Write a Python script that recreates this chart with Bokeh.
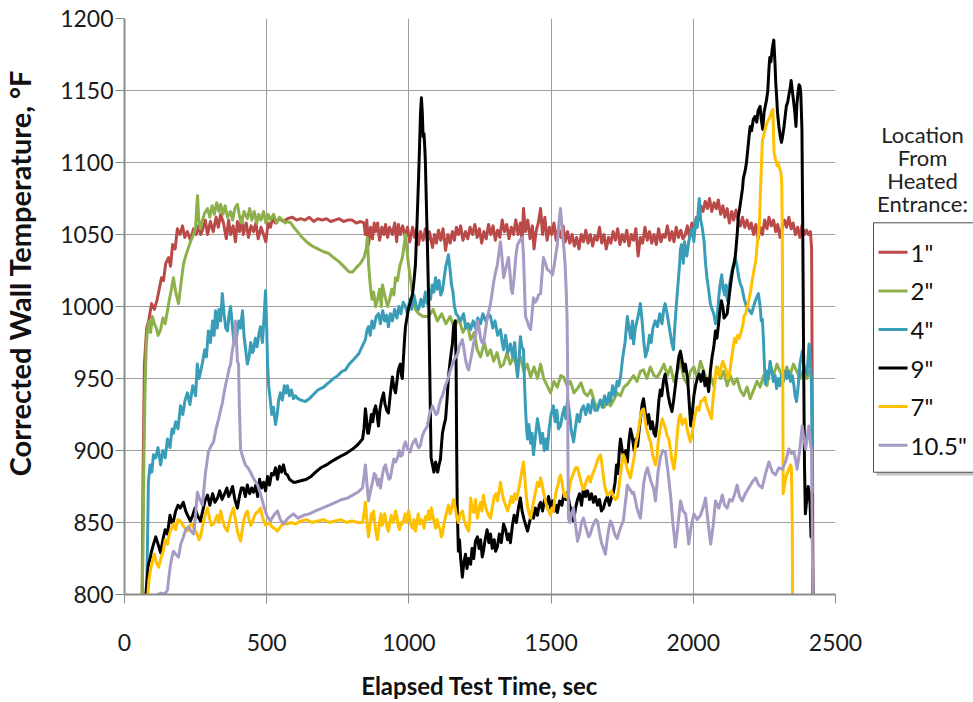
import math
from bokeh.plotting import figure
from bokeh.layouts import row
from bokeh.models import Range1d, FixedTicker
from bokeh.core.properties import value
from bokeh.embed import file_html
from bokeh.resources import INLINE

# ---------------- data ----------------
x_ticks = [0, 500, 1000, 1500, 2000, 2500]
y_ticks = [800, 850, 900, 950, 1000, 1050, 1100, 1150, 1200]

series_labels = ['1"', '2"', '4"', '9"', '7"', '10.5"']
legend_title_lines = ["Location", "From", "Heated", "Entrance:"]
x_title = "Elapsed Test Time, sec"
y_title = "Corrected Wall Temperature, \u00b0F"

# (elapsed time s, corrected wall temperature F)
loc_1in = [(62,800),(65,880),(70,960),(78,985),(85,990),(95,1002),(105,998),(115,1005),(122,1012),(130,1020),(137,1018),(145,1030),(155,1034),(162,1028),(169,1043),(178,1040),(186,1054),(195,1050),(204,1056),(212,1048),(221,1052),(232,1046),(243,1054),(252,1050),(260,1056),(268,1050),(274,1053),(284,1060),(292,1050),(302,1059),(312,1052),(322,1062),(330,1055),(338,1064),(348,1058),(358,1047),(366,1060),(373,1050),(382,1056),(390,1045),(397,1059),(405,1052),(412,1062),(418,1050),(428,1058),(436,1048),(445,1056),(454,1052),(462,1058),(470,1047),(480,1055),(489,1050),(497,1045),(505,1058),(513,1055),(522,1062),(530,1058),(545,1061),(560,1059),(573,1061),(590,1062),(605,1060),(619,1061),(635,1060),(650,1062),(665,1059),(680,1061),(695,1060),(710,1061),(725,1059),(740,1060),(755,1061),(770,1059),(785,1060),(800,1060),(815,1058),(830,1059),(842,1058),(847,1050),(852,1060),(858,1043),(865,1055),(872,1047),(878,1058),(883,1052),(890,1058),(897,1046),(905,1055),(912,1050),(918,1057),(925,1048),(932,1055),(942,1050),(950,1058),(957,1045),(963,1057),(970,1050),(978,1056),(988,1048),(995,1055),(1003,1045),(1013,1055),(1020,1048),(1027,1054),(1034,1043),(1041,1052),(1050,1046),(1058,1054),(1065,1045),(1072,1052),(1083,1041),(1090,1050),(1097,1044),(1104,1053),(1112,1046),(1120,1054),(1129,1039),(1137,1050),(1145,1044),(1153,1052),(1160,1046),(1167,1055),(1174,1050),(1182,1056),(1190,1046),(1199,1052),(1207,1047),(1215,1055),(1224,1050),(1232,1057),(1240,1048),(1248,1054),(1256,1044),(1264,1052),(1272,1047),(1280,1057),(1288,1050),(1296,1056),(1304,1046),(1312,1053),(1320,1048),(1328,1060),(1336,1052),(1344,1057),(1352,1047),(1360,1055),(1368,1050),(1376,1060),(1384,1050),(1392,1058),(1398,1045),(1403,1068),(1410,1052),(1418,1060),(1426,1047),(1434,1056),(1440,1040),(1447,1052),(1455,1058),(1463,1068),(1470,1050),(1478,1062),(1486,1046),(1494,1055),(1502,1050),(1510,1058),(1518,1046),(1526,1054),(1534,1048),(1542,1056),(1550,1045),(1558,1052),(1566,1044),(1574,1050),(1582,1042),(1590,1048),(1598,1040),(1606,1050),(1614,1045),(1622,1053),(1630,1044),(1638,1050),(1646,1042),(1654,1049),(1662,1046),(1670,1055),(1678,1044),(1686,1050),(1694,1040),(1702,1048),(1710,1044),(1718,1052),(1726,1046),(1734,1054),(1742,1043),(1750,1050),(1758,1045),(1766,1053),(1774,1042),(1782,1050),(1790,1046),(1798,1054),(1806,1035),(1814,1048),(1822,1044),(1830,1055),(1838,1046),(1846,1052),(1854,1044),(1862,1050),(1870,1043),(1878,1054),(1886,1045),(1894,1050),(1901,1048),(1909,1056),(1917,1046),(1925,1052),(1932,1045),(1940,1055),(1948,1048),(1956,1053),(1964,1047),(1972,1050),(1979,1056),(1987,1048),(1995,1058),(2003,1050),(2011,1062),(2018,1060),(2026,1070),(2034,1066),(2042,1073),(2050,1068),(2057,1075),(2065,1066),(2073,1072),(2081,1068),(2088,1074),(2096,1064),(2104,1070),(2111,1062),(2119,1068),(2127,1058),(2135,1066),(2142,1060),(2150,1067),(2158,1060),(2166,1056),(2173,1062),(2181,1055),(2189,1060),(2197,1054),(2204,1058),(2212,1050),(2220,1057),(2228,1047),(2235,1055),(2243,1050),(2251,1060),(2259,1054),(2266,1062),(2274,1056),(2282,1060),(2290,1052),(2297,1057),(2305,1048),(2313,1055),(2321,1060),(2328,1055),(2336,1062),(2344,1054),(2351,1058),(2359,1050),(2367,1055),(2375,1048),(2382,1056),(2390,1050),(2398,1053),(2405,1050),(2412,1052),(2416,1040),(2419,900),(2421,800)]

loc_2in = [(62,800),(65,830),(68,890),(72,940),(76,970),(80,982),(86,990),(92,982),(98,993),(105,988),(112,985),(118,980),(127,984),(135,992),(143,988),(151,997),(158,1005),(165,1012),(172,1020),(180,1010),(190,1002),(198,1015),(207,1029),(215,1035),(225,1041),(234,1046),(243,1050),(250,1055),(254,1070),(257,1077),(261,1060),(267,1054),(274,1060),(282,1065),(292,1068),(300,1062),(308,1070),(316,1064),(324,1072),(332,1066),(338,1071),(346,1064),(354,1070),(362,1062),(373,1066),(380,1060),(388,1068),(397,1071),(405,1062),(412,1058),(420,1066),(432,1061),(440,1068),(448,1060),(456,1066),(465,1058),(472,1064),(480,1060),(489,1066),(497,1058),(505,1064),(513,1060),(524,1064),(535,1058),(545,1062),(555,1060),(565,1058),(573,1059),(585,1058),(595,1055),(608,1052),(620,1049),(640,1045),(660,1042),(680,1040),(700,1038),(717,1037),(735,1034),(755,1031),(775,1027),(790,1024),(802,1024),(815,1027),(830,1030),(842,1034),(850,1040),(854,1048),(858,1030),(864,1015),(870,1005),(876,1010),(883,1000),(890,1005),(897,1012),(903,1000),(907,1015),(915,1008),(925,1000),(932,1005),(940,1012),(947,1008),(953,1020),(960,1018),(968,1028),(977,1034),(983,1042),(988,1050),(993,1040),(998,1030),(1005,1020),(1012,1010),(1018,1002),(1023,998),(1035,995),(1050,993),(1069,993),(1085,998),(1100,990),(1115,995),(1130,988),(1145,993),(1160,985),(1175,992),(1190,982),(1205,988),(1217,977),(1230,982),(1240,970),(1252,965),(1265,975),(1276,966),(1287,970),(1298,962),(1310,968),(1322,958),(1333,960),(1345,968),(1356,960),(1368,965),(1380,958),(1392,965),(1404,955),(1416,960),(1428,951),(1440,958),(1452,950),(1463,960),(1474,950),(1486,945),(1498,940),(1510,948),(1522,944),(1534,952),(1544,951),(1556,945),(1568,948),(1580,940),(1593,943),(1605,947),(1617,940),(1628,938),(1640,942),(1652,934),(1663,929),(1675,935),(1687,930),(1698,934),(1709,931),(1720,935),(1732,940),(1744,938),(1756,944),(1768,946),(1779,949),(1790,952),(1802,948),(1814,955),(1825,956),(1837,950),(1849,958),(1862,952),(1874,951),(1885,955),(1897,960),(1909,952),(1920,958),(1932,948),(1944,955),(1955,962),(1967,950),(1979,946),(1990,955),(2002,958),(2014,950),(2025,962),(2037,955),(2049,948),(2060,952),(2072,945),(2084,958),(2095,950),(2107,955),(2119,945),(2130,952),(2142,946),(2154,950),(2165,942),(2177,938),(2189,944),(2200,936),(2212,942),(2224,948),(2235,944),(2247,952),(2259,945),(2270,958),(2282,952),(2294,960),(2305,955),(2317,950),(2329,958),(2340,952),(2352,960),(2364,955),(2375,950),(2387,956),(2399,950),(2410,955),(2416,950)]

loc_4in = [(78,800),(82,850),(84,878),(90,890),(96,885),(102,897),(110,895),(118,902),(127,890),(135,900),(143,895),(151,908),(160,902),(167,915),(172,912),(180,920),(188,915),(197,931),(205,925),(213,935),(221,940),(230,932),(240,945),(250,938),(256,960),(262,950),(267,954),(275,962),(282,970),(288,965),(295,983),(302,975),(310,990),(315,980),(320,997),(326,985),(332,998),(338,990),(344,1009),(350,995),(356,985),(362,983),(368,995),(373,1000),(380,985),(385,975),(390,974),(396,982),(402,990),(408,985),(415,997),(420,980),(426,970),(432,960),(438,965),(444,975),(450,968),(454,970),(460,978),(466,972),(472,980),(478,986),(485,975),(490,990),(496,1011),(500,985),(503,960),(507,945),(512,936),(518,925),(524,930),(531,918),(537,925),(542,935),(548,940),(555,935),(562,945),(568,940),(573,945),(580,938),(587,942),(594,936),(601,938),(610,936),(620,935),(636,934),(650,936),(665,939),(680,942),(700,944),(717,947),(735,950),(750,952),(765,955),(777,956),(790,960),(805,963),(823,967),(835,972),(847,977),(852,983),(858,986),(864,980),(870,990),(877,985),(885,993),(893,995),(900,988),(908,997),(915,990),(922,994),(928,986),(935,995),(942,990),(950,998),(958,992),(965,1000),(972,995),(980,1003),(988,1000),(995,995),(1003,1005),(1010,998),(1018,1008),(1026,1000),(1034,998),(1042,1005),(1050,1000),(1058,1010),(1064,1002),(1069,1009),(1076,1005),(1082,1015),(1088,1010),(1094,1020),(1100,1012),(1106,1018),(1112,1008),(1118,1011),(1124,1020),(1130,1028),(1135,1032),(1139,1036),(1145,1025),(1150,1015),(1155,1010),(1160,1000),(1166,995),(1174,993),(1182,990),(1192,995),(1200,985),(1210,988),(1217,984),(1226,990),(1234,985),(1242,992),(1252,988),(1260,995),(1270,990),(1280,995),(1287,993),(1295,985),(1303,990),(1312,980),(1322,984),(1328,975),(1333,970),(1340,980),(1348,968),(1357,974),(1365,965),(1372,975),(1378,958),(1382,951),(1388,965),(1392,979),(1397,972),(1403,970),(1406,950),(1410,929),(1414,915),(1417,908),(1422,918),(1428,905),(1433,912),(1438,897),(1445,910),(1452,922),(1458,915),(1464,905),(1470,912),(1476,900),(1482,908),(1487,901),(1493,915),(1500,925),(1508,931),(1514,920),(1520,928),(1526,915),(1533,917),(1540,925),(1547,930),(1552,922),(1558,936),(1565,925),(1570,915),(1575,910),(1579,906),(1585,915),(1592,925),(1600,920),(1606,928),(1614,931),(1622,925),(1630,932),(1638,926),(1646,935),(1654,928),(1663,928),(1672,935),(1680,930),(1688,938),(1696,932),(1704,940),(1709,934),(1716,945),(1724,938),(1732,948),(1738,945),(1744,951),(1752,965),(1760,975),(1768,993),(1774,985),(1780,978),(1786,990),(1790,974),(1796,985),(1802,990),(1808,995),(1814,1002),(1820,990),(1826,975),(1832,965),(1839,970),(1846,980),(1852,975),(1858,985),(1866,990),(1874,986),(1882,995),(1890,988),(1896,998),(1901,1002),(1908,995),(1916,985),(1924,975),(1930,970),(1935,986),(1940,1000),(1946,1015),(1952,1030),(1955,1040),(1959,1043),(1965,1030),(1969,1045),(1977,1035),(1984,1045),(1990,1050),(1996,1054),(2002,1045),(2008,1060),(2014,1055),(2018,1068),(2021,1075),(2026,1060),(2032,1054),(2038,1045),(2043,1030),(2048,1020),(2055,1010),(2060,1002),(2066,998),(2072,995),(2078,988),(2083,991),(2089,1005),(2094,1015),(2100,1022),(2105,1012),(2111,1008),(2115,1015),(2120,1004),(2127,1015),(2133,1022),(2140,1028),(2147,1034),(2154,1028),(2160,1020),(2165,1016),(2171,1013),(2179,1005),(2187,1000),(2194,998),(2205,995),(2212,1000),(2220,1005),(2229,1009),(2235,1000),(2239,990),(2243,991),(2247,975),(2250,960),(2253,946),(2258,955),(2264,950),(2270,962),(2276,955),(2282,948),(2288,952),(2293,943),(2299,950),(2305,945),(2311,953),(2317,948),(2323,955),(2329,950),(2335,955),(2342,948),(2348,952),(2354,945),(2358,938),(2363,934),(2369,945),(2375,960),(2383,969),(2388,960),(2394,955),(2400,953),(2404,965),(2407,974),(2412,960),(2415,950),(2418,900),(2420,800)]

loc_9in = [(75,800),(80,812),(84,821),(90,825),(95,830),(102,835),(110,840),(118,835),(127,829),(135,838),(143,845),(151,842),(160,855),(166,850),(172,851),(180,858),(188,862),(196,860),(207,864),(215,858),(222,855),(232,851),(240,855),(248,860),(256,855),(267,851),(275,858),(283,865),(292,869),(300,862),(310,870),(318,864),(327,867),(335,872),(343,866),(352,870),(360,874),(366,868),(373,871),(380,875),(388,866),(397,860),(404,868),(411,874),(418,874),(425,868),(432,876),(440,870),(447,874),(454,871),(462,876),(468,868),(475,880),(482,874),(489,878),(496,872),(503,882),(510,876),(517,884),(524,883),(531,888),(538,880),(545,889),(552,885),(559,890),(566,884),(573,883),(580,880),(587,879),(594,878),(601,878),(620,879),(640,880),(656,882),(672,885),(690,888),(710,890),(725,892),(742,894),(760,896),(780,898),(802,901),(820,904),(837,908),(842,915),(847,929),(851,922),(855,912),(858,912),(863,918),(868,925),(873,920),(878,928),(883,931),(888,925),(893,917),(898,928),(904,935),(911,940),(916,932),(922,928),(928,926),(934,938),(938,945),(942,951),(946,945),(950,942),(953,940),(958,948),(962,955),(966,958),(970,960),(974,952),(977,950),(981,965),(985,978),(988,986),(993,992),(998,998),(1005,1003),(1013,1009),(1018,1018),(1023,1029),(1028,1055),(1034,1089),(1038,1115),(1041,1135),(1044,1145),(1047,1135),(1050,1118),(1053,1120),(1056,1110),(1058,1100),(1061,1075),(1065,1043),(1070,1000),(1073,960),(1076,920),(1078,895),(1083,890),(1088,885),(1094,892),(1101,885),(1106,890),(1111,894),(1115,905),(1118,912),(1124,918),(1129,922),(1134,935),(1139,951),(1145,962),(1150,970),(1153,974),(1157,986),(1163,990),(1166,960),(1168,900),(1170,860),(1174,830),(1178,838),(1182,825),(1188,812),(1193,822),(1199,828),(1204,818),(1210,825),(1217,821),(1222,832),(1228,825),(1234,837),(1241,840),(1247,832),(1252,838),(1258,826),(1262,830),(1268,838),(1275,845),(1281,836),(1287,842),(1293,832),(1300,838),(1305,830),(1311,833),(1318,842),(1325,836),(1333,849),(1340,845),(1347,838),(1352,842),(1357,836),(1364,848),(1370,855),(1378,850),(1385,860),(1392,867),(1398,858),(1405,852),(1411,848),(1417,844),(1424,850),(1431,856),(1438,853),(1445,860),(1452,855),(1458,862),(1463,864),(1470,858),(1477,866),(1484,862),(1491,868),(1498,860),(1505,865),(1512,858),(1518,862),(1522,857),(1530,865),(1538,862),(1545,870),(1552,866),(1558,871),(1565,862),(1572,858),(1579,851),(1586,860),(1593,866),(1600,870),(1607,862),(1614,874),(1621,868),(1628,872),(1635,866),(1642,870),(1649,864),(1656,868),(1663,862),(1670,866),(1677,858),(1684,860),(1691,865),(1698,868),(1705,862),(1712,867),(1719,871),(1725,878),(1730,890),(1735,884),(1740,900),(1744,908),(1750,900),(1756,895),(1762,900),(1768,892),(1773,905),(1779,915),(1785,910),(1792,900),(1798,908),(1804,903),(1810,915),(1816,925),(1820,932),(1825,936),(1830,928),(1836,918),(1843,925),(1850,915),(1856,920),(1862,912),(1867,910),(1873,920),(1879,935),(1884,942),(1889,938),(1895,948),(1901,953),(1907,945),(1912,938),(1918,932),(1925,927),(1931,935),(1937,945),(1943,955),(1949,965),(1955,969),(1961,962),(1967,955),(1972,960),(1980,950),(1985,935),(1991,917),(1996,925),(2002,938),(2008,945),(2014,950),(2021,953),(2027,948),(2035,955),(2041,945),(2047,950),(2054,941),(2060,955),(2066,965),(2072,972),(2078,983),(2083,978),(2089,988),(2094,998),(2099,1004),(2105,998),(2108,992),(2112,993),(2119,995),(2125,1005),(2131,1015),(2138,1025),(2146,1032),(2150,1040),(2155,1052),(2158,1062),(2163,1068),(2168,1075),(2173,1082),(2176,1089),(2182,1094),(2187,1100),(2192,1110),(2196,1118),(2200,1125),(2205,1122),(2211,1130),(2217,1132),(2223,1128),(2228,1136),(2235,1139),(2239,1130),(2244,1123),(2249,1135),(2254,1140),(2258,1144),(2262,1150),(2266,1165),(2269,1173),(2273,1170),(2277,1178),(2280,1182),(2283,1185),(2287,1170),(2290,1155),(2293,1146),(2296,1135),(2301,1125),(2306,1118),(2310,1114),(2314,1118),(2319,1125),(2323,1132),(2327,1139),(2332,1142),(2337,1148),(2341,1152),(2344,1157),(2348,1150),(2353,1142),(2357,1135),(2361,1125),(2364,1140),(2369,1150),(2372,1154),(2375,1153),(2378,1148),(2382,1123),(2385,1050),(2388,960),(2391,890),(2394,856),(2397,862),(2400,868),(2404,875),(2408,870),(2411,861),(2414,840),(2418,870),(2420,800)]

loc_7in = [(82,800),(86,810),(92,818),(98,823),(105,828),(112,822),(120,819),(128,825),(136,830),(143,838),(151,835),(158,842),(165,846),(172,849),(180,845),(188,852),(197,851),(205,848),(213,846),(221,844),(230,848),(239,849),(247,845),(255,842),(262,838),(267,840),(275,848),(283,855),(292,860),(300,852),(306,848),(313,849),(320,852),(326,855),(332,850),(338,858),(345,852),(352,847),(358,845),(362,844),(368,850),(375,856),(383,860),(390,852),(397,844),(403,840),(408,837),(414,845),(420,852),(426,856),(432,858),(438,852),(444,848),(450,850),(454,853),(460,856),(466,857),(472,858),(478,860),(485,854),(492,850),(497,848),(503,849),(510,850),(518,847),(526,846),(532,845),(538,844),(545,846),(552,848),(560,850),(566,849),(573,849),(585,850),(601,849),(620,851),(640,852),(660,850),(680,851),(700,852),(720,850),(740,851),(760,852),(780,850),(800,851),(820,850),(837,850),(842,856),(847,864),(852,852),(858,840),(863,848),(868,856),(872,852),(876,858),(880,850),(885,842),(889,838),(893,844),(898,852),(902,856),(906,848),(911,851),(915,856),(920,850),(924,846),(928,844),(933,850),(938,855),(943,850),(948,852),(953,858),(958,854),(962,848),(967,845),(972,850),(977,849),(982,852),(987,856),(992,850),(996,854),(999,858),(1004,852),(1008,848),(1013,846),(1018,852),(1023,844),(1028,850),(1033,856),(1038,849),(1043,852),(1048,851),(1053,846),(1058,854),(1064,852),(1069,858),(1074,852),(1079,860),(1084,855),(1089,850),(1094,846),(1099,852),(1104,848),(1110,845),(1114,840),(1118,842),(1124,850),(1130,855),(1134,858),(1139,862),(1145,856),(1150,860),(1157,866),(1163,860),(1168,854),(1174,850),(1180,856),(1188,858),(1194,852),(1200,848),(1205,846),(1210,844),(1214,852),(1217,867),(1222,860),(1228,857),(1234,866),(1241,853),(1247,860),(1252,864),(1257,858),(1262,869),(1268,862),(1274,858),(1280,855),(1287,853),(1293,860),(1300,868),(1306,870),(1312,865),(1317,872),(1322,878),(1328,870),(1334,865),(1340,862),(1347,858),(1353,862),(1360,868),(1366,864),(1372,870),(1377,866),(1382,869),(1388,875),(1394,882),(1399,888),(1403,892),(1408,880),(1413,868),(1418,860),(1423,856),(1428,853),(1434,860),(1440,866),(1446,872),(1452,878),(1458,875),(1463,881),(1469,876),(1474,870),(1480,865),(1486,860),(1492,858),(1498,855),(1503,860),(1508,858),(1513,866),(1518,872),(1523,875),(1528,880),(1533,883),(1538,878),(1543,872),(1548,868),(1553,870),(1558,867),(1563,872),(1568,878),(1574,882),(1580,885),(1586,888),(1593,888),(1598,884),(1603,880),(1608,876),(1614,873),(1620,876),(1626,880),(1632,882),(1638,878),(1643,882),(1649,885),(1655,888),(1661,892),(1667,895),(1674,897),(1679,890),(1684,882),(1688,876),(1693,872),(1698,869),(1705,870),(1712,872),(1719,868),(1726,866),(1733,867),(1738,874),(1743,882),(1748,890),(1754,897),(1760,894),(1766,888),(1773,884),(1779,881),(1785,888),(1792,895),(1798,905),(1804,910),(1810,918),(1815,925),(1820,928),(1825,929),(1830,922),(1835,915),(1840,912),(1845,908),(1850,906),(1856,898),(1862,893),(1867,890),(1872,895),(1876,905),(1881,912),(1886,918),(1891,922),(1897,918),(1903,915),(1908,910),(1914,908),(1920,900),(1926,892),(1932,887),(1937,895),(1943,910),(1949,922),(1955,925),(1961,918),(1966,920),(1972,922),(1978,915),(1984,910),(1990,906),(1996,912),(2002,920),(2007,925),(2013,930),(2020,928),(2026,934),(2034,935),(2041,937),(2046,932),(2053,928),(2059,925),(2064,922),(2069,935),(2075,945),(2081,958),(2087,955),(2093,952),(2098,958),(2104,962),(2111,958),(2117,955),(2122,950),(2128,953),(2133,962),(2139,970),(2145,978),(2151,975),(2156,980),(2162,978),(2169,983),(2175,988),(2178,993),(2184,995),(2190,1000),(2196,1005),(2202,1011),(2207,1018),(2213,1025),(2220,1032),(2224,1042),(2229,1050),(2233,1059),(2236,1080),(2240,1100),(2243,1116),(2247,1118),(2251,1122),(2255,1125),(2260,1128),(2265,1130),(2270,1132),(2275,1135),(2280,1137),(2282,1120),(2284,1107),(2289,1102),(2294,1098),(2298,1100),(2302,1097),(2305,1095),(2308,1093),(2311,1085),(2313,1050),(2316,870),(2321,876),(2326,882),(2332,885),(2338,888),(2342,890),(2345,888),(2348,850),(2349,800)]

loc_10_5in = [(116,800),(130,801),(140,800),(151,803),(156,812),(162,821),(167,826),(172,830),(180,828),(190,826),(198,835),(207,840),(215,845),(225,847),(234,844),(243,842),(250,855),(256,871),(265,866),(274,862),(280,875),(285,885),(290,892),(295,899),(304,903),(313,906),(322,915),(331,922),(338,928),(344,933),(352,942),(358,948),(362,951),(368,957),(373,960),(378,968),(383,974),(387,982),(390,990),(394,975),(397,962),(401,960),(404,930),(408,901),(415,896),(425,890),(434,888),(443,885),(455,880),(468,876),(478,870),(489,862),(500,855),(513,851),(525,855),(538,858),(548,852),(559,849),(575,853),(594,856),(610,853),(630,855),(650,856),(672,858),(695,860),(720,862),(742,864),(765,866),(785,867),(802,869),(820,871),(837,874),(842,882),(847,890),(852,878),(858,865),(865,872),(872,878),(878,884),(883,883),(890,876),(895,880),(900,874),(906,882),(912,888),(918,890),(924,884),(930,880),(935,881),(941,888),(947,894),(953,892),(960,895),(966,900),(972,896),(977,897),(982,903),(988,906),(994,902),(1000,900),(1005,899),(1011,904),(1017,906),(1023,908),(1029,904),(1035,902),(1041,904),(1047,910),(1053,913),(1059,915),(1065,917),(1071,924),(1077,928),(1083,931),(1089,928),(1095,925),(1101,926),(1107,932),(1113,936),(1118,938),(1124,942),(1130,946),(1136,949),(1142,953),(1148,957),(1153,960),(1159,963),(1165,965),(1171,967),(1177,972),(1183,975),(1188,977),(1194,970),(1200,962),(1205,958),(1210,956),(1216,962),(1222,968),(1228,975),(1234,979),(1238,985),(1241,990),(1247,985),(1252,978),(1257,975),(1262,974),(1268,982),(1274,990),(1280,996),(1287,1002),(1293,1010),(1299,1018),(1305,1024),(1311,1029),(1317,1038),(1322,1045),(1327,1035),(1333,1020),(1340,1026),(1345,1030),(1350,1034),(1356,1022),(1360,1012),(1364,1009),(1370,1020),(1376,1035),(1382,1043),(1390,1046),(1399,1048),(1403,1035),(1407,1010),(1410,993),(1416,990),(1422,986),(1428,984),(1433,995),(1438,1006),(1445,1003),(1451,1005),(1456,1008),(1463,1009),(1468,1022),(1473,1034),(1480,1030),(1486,1026),(1491,1025),(1498,1024),(1505,1022),(1512,1030),(1518,1038),(1522,1043),(1526,1055),(1530,1063),(1533,1068),(1537,1058),(1541,1048),(1544,1043),(1549,1030),(1553,1012),(1556,993),(1558,960),(1559,900),(1561,853),(1566,850),(1572,856),(1579,860),(1586,848),(1593,837),(1600,842),(1607,850),(1614,853),(1620,848),(1626,844),(1632,840),(1638,842),(1645,847),(1652,850),(1658,852),(1663,851),(1670,843),(1677,836),(1684,832),(1691,828),(1697,838),(1703,846),(1709,851),(1716,848),(1722,843),(1728,840),(1733,839),(1740,844),(1747,848),(1754,851),(1760,862),(1765,870),(1768,876),(1774,874),(1780,872),(1786,870),(1790,871),(1796,866),(1802,860),(1808,856),(1814,853),(1820,865),(1826,878),(1832,884),(1839,888),(1845,883),(1852,878),(1860,874),(1867,865),(1876,885),(1885,896),(1893,900),(1902,899),(1911,885),(1920,869),(1928,850),(1937,833),(1946,848),(1955,865),(1964,858),(1973,856),(1979,845),(1984,835),(1993,848),(2002,856),(2014,852),(2025,855),(2034,860),(2043,867),(2052,850),(2061,835),(2070,848),(2078,865),(2090,860),(2102,869),(2110,862),(2119,860),(2128,866),(2137,865),(2146,870),(2154,876),(2163,868),(2172,865),(2183,870),(2195,874),(2207,878),(2219,881),(2230,876),(2242,874),(2254,884),(2266,892),(2278,885),(2289,883),(2301,888),(2313,887),(2324,892),(2336,901),(2345,898),(2354,899),(2360,893),(2365,887),(2374,900),(2383,917),(2389,908),(2395,901),(2401,910),(2406,917),(2412,905),(2416,900),(2418,850),(2420,800)]

series_points = [loc_1in, loc_2in, loc_4in, loc_9in, loc_7in, loc_10_5in]
series_colors = ["#B94A48", "#8DB04A", "#3A9DB8", "#000000", "#FFC000", "#A79AC4"]

FONT = "Lato"


def blank_panel(width, x0):
    """A figure without axes whose data units are page pixels (y downward)."""
    f = figure(width=width, height=702, output_backend="svg", toolbar_location=None,
               x_range=Range1d(x0, x0 + width), y_range=Range1d(702, 0),
               x_axis_location=None, y_axis_location=None, min_border=0,
               background_fill_color="white", border_fill_color="white")
    f.outline_line_color = None
    f.xgrid.visible = False
    f.ygrid.visible = False
    return f


# ---------------- left strip: vertical axis title ----------------
ylab = blank_panel(40, 0)
ylab.text(x=[19], y=[310], text=[y_title], angle=math.pi / 2,
          text_font=value(FONT), text_font_size="29px", text_font_style="bold",
          text_color="#111111", text_align="center", text_baseline="middle")

# ---------------- main chart ----------------
p = figure(width=825, height=702, output_backend="svg", toolbar_location=None,
           x_range=Range1d(0, 2500), y_range=Range1d(800, 1200),
           min_border_left=84, min_border_right=30, min_border_top=18,
           min_border_bottom=99, background_fill_color="white",
           border_fill_color="white")
p.outline_line_color = None

for ax, ticks in ((p.xaxis[0], x_ticks), (p.yaxis[0], y_ticks)):
    ax.ticker = FixedTicker(ticks=ticks)
    ax.axis_line_color = "#8C8C8C"
    ax.axis_line_width = 2
    ax.major_tick_line_color = "#8C8C8C"
    ax.major_tick_out = 9
    ax.major_tick_in = 0
    ax.minor_tick_line_color = None
    ax.major_label_text_font = FONT
    ax.major_label_text_font_size = "23px"
    ax.major_label_text_color = "#1a1a1a"
    ax.axis_label_text_font = FONT
    ax.axis_label_text_font_style = "bold"
    ax.axis_label_text_color = "#111111"

p.xaxis.axis_label = x_title
p.xaxis.axis_label_text_font_size = "24px"
p.xaxis.major_label_standoff = 30
p.xaxis.axis_label_standoff = 17
p.yaxis.major_label_standoff = 2

p.xgrid.grid_line_color = "#9E9E9E"
p.ygrid.grid_line_color = "#9E9E9E"
p.xgrid.ticker = FixedTicker(ticks=x_ticks)
p.ygrid.ticker = FixedTicker(ticks=y_ticks)

for pts, col in zip(series_points, series_colors):
    xs = [a for a, b in pts]
    ys = [b for a, b in pts]
    p.line(xs, ys, line_color=col, line_width=3, line_join="round")

# ---------------- right strip: legend ----------------
lg = blank_panel(108, 865)

box_left, box_top, box_bottom = 873, 249, 553
item_y0, item_step = 285, 47

lg.quad(left=[box_left + 3], right=[995], top=[box_top + 4], bottom=[box_bottom + 4],
        fill_color="#7a7a7a", fill_alpha=0.45, line_color=None)
lg.quad(left=[box_left], right=[990], top=[box_top], bottom=[box_bottom],
        fill_color="white", line_color="#4d4d4d", line_width=1)

item_ys = [item_y0 + i * item_step for i in range(len(series_labels))]
lg.segment(x0=[box_left + 5] * len(item_ys), x1=[box_left + 34] * len(item_ys),
           y0=item_ys, y1=item_ys, line_color=series_colors, line_width=3)
lg.text(x=[box_left + 37] * len(item_ys), y=item_ys, text=series_labels,
        text_font=value(FONT), text_font_size="24px", text_color="#111111",
        text_align="left", text_baseline="middle")

title_ys = [141, 169, 197, 226]
lg.text(x=[922] * len(title_ys), y=title_ys, text=legend_title_lines,
        text_font=value(FONT), text_font_size="22px", text_color="#222222",
        text_align="center", text_baseline="middle")

layout = row(ylab, p, lg, spacing=0)
open("out.html", "w").write(file_html(layout, INLINE))
